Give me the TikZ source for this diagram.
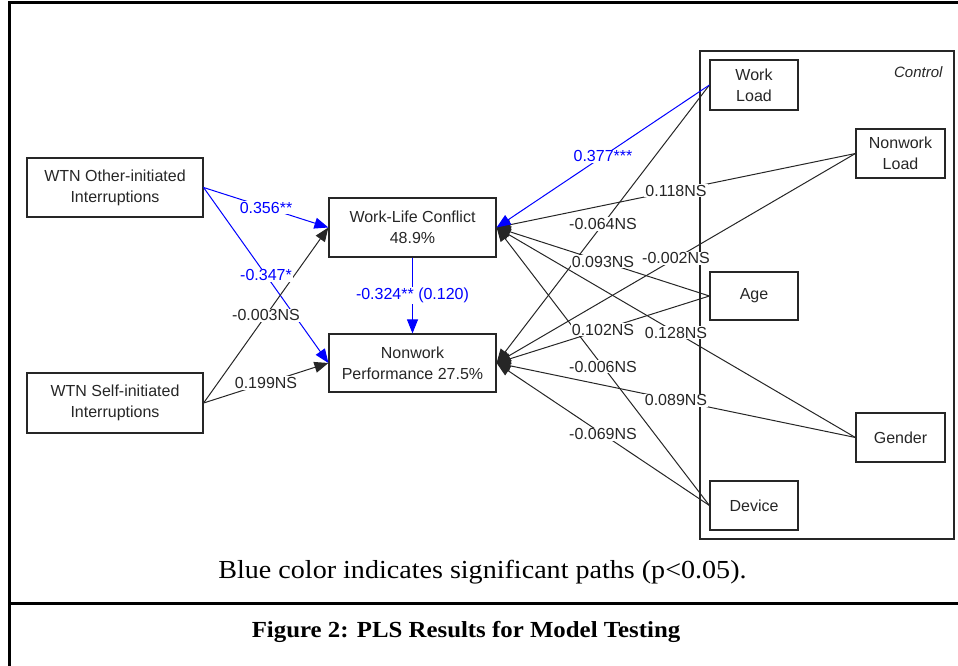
\documentclass[tikz,border=0pt]{standalone}
\usepackage{fontspec}
\setmainfont{Liberation Sans}
\newfontfamily\capfont[FakeStretch=1.08]{Liberation Serif}
\usetikzlibrary{arrows.meta}
\definecolor{ink}{HTML}{262626}
\definecolor{sig}{HTML}{0000FF}
\begin{document}
\begin{tikzpicture}[x=1pt,y=-1pt,
  box/.style={draw=ink, line width=1.2pt, inner sep=0pt, text=ink, align=center,
    font=\fontsize{16}{21}\selectfont},
  conn/.style={draw=black!85, color=black!85, line width=1pt, -{Triangle[length=14pt,width=11pt]}},
  sigconn/.style={conn, draw=sig, color=sig},
  lbl/.style={fill=white, inner sep=1pt, text=ink, font=\fontsize{16}{18}\selectfont},
  siglbl/.style={lbl, text=sig},
  frame/.style={line width=3pt, draw=black},
]
\useasboundingbox (0,0) rectangle (958,666);
% outer frame
\draw[frame] (958,3) -- (9,3) -- (9,666);
\draw[frame] (9,603) -- (958,603);
% control container
\node[draw=ink, line width=1.4pt, minimum width=254pt, minimum height=488pt, inner sep=0pt] (ctrl) at (827,295) {};
\node[anchor=east, text=ink, font=\fontsize{15}{18}\selectfont\itshape] (ctl) at (946,72) {Control};
% main nodes
\node[box, minimum width=176pt, minimum height=59pt] (other) at (115,187.5) {WTN Other-initiated\\Interruptions};
\node[box, minimum width=176pt, minimum height=60pt] (self) at (115,403) {WTN Self-initiated\\Interruptions};
\node[box, minimum width=167pt, minimum height=59pt] (wlc) at (412.5,227.5) {Work-Life Conflict\\48.9\%};
\node[box, minimum width=167pt, minimum height=58pt] (np) at (412.5,363) {Nonwork\\Performance 27.5\%};
% controls
\node[box, minimum width=88pt, minimum height=50pt] (wl) at (754,85) {Work\\Load};
\node[box, minimum width=89pt, minimum height=49pt] (nl) at (900.5,153.5) {Nonwork\\Load};
\node[box, minimum width=88pt, minimum height=48pt] (age) at (754,296) {Age};
\node[box, minimum width=89pt, minimum height=49pt] (gender) at (900.5,437.5) {Gender};
\node[box, minimum width=88pt, minimum height=49pt] (device) at (754,505.5) {Device};
% connectors
\draw[sigconn] (other.east) -- coordinate[midway] (m1) (wlc.west);
\draw[sigconn] (other.east) -- coordinate[midway] (m2) (np.west);
\draw[conn] (self.east) -- coordinate[midway] (m3) (wlc.west);
\draw[conn] (self.east) -- coordinate[midway] (m4) (np.west);
\draw[sigconn] (wlc.south) -- coordinate[midway] (m5) (np.north);
\draw[conn] (wl.west) -- coordinate[midway] (c2) (np.east);
\draw[conn] (nl.west) -- coordinate[midway] (c3) (wlc.east);
\draw[conn] (nl.west) -- coordinate[midway] (c4) (np.east);
\draw[conn] (age.west) -- coordinate[midway] (c5) (wlc.east);
\draw[conn] (age.west) -- coordinate[midway] (c6) (np.east);
\draw[conn] (gender.west) -- coordinate[midway] (c7) (wlc.east);
\draw[conn] (gender.west) -- coordinate[midway] (c8) (np.east);
\draw[conn] (device.west) -- coordinate[midway] (c9) (wlc.east);
\draw[conn] (device.west) -- coordinate[midway] (c10) (np.east);
\draw[sigconn] (wl.west) -- coordinate[midway] (c1) (wlc.east);
% labels
\node[siglbl] (l1) at (m1) {0.356**};
\node[siglbl] (l2) at (m2) {-0.347*};
\node[lbl] (l3) at (m3) {-0.003NS};
\node[lbl] (l4) at (m4) {0.199NS};
\node[siglbl] (l5) at (m5) {-0.324** (0.120)};
\node[siglbl] (k1) at (c1) {0.377***};
\node[lbl] (k2) at (c2) {-0.064NS};
\node[lbl] (k3) at (c3) {0.118NS};
\node[lbl] (k4) at (c4) {-0.002NS};
\node[lbl] (k5) at (c5) {0.093NS};
\node[lbl] (k6) at (c6) {0.102NS};
\node[lbl] (k7) at (c7) {0.128NS};
\node[lbl] (k8) at (c8) {0.089NS};
\node[lbl] (k9) at (c9) {-0.006NS};
\node[lbl] (k10) at (c10) {-0.069NS};
% captions
\node[anchor=base, inner sep=0pt, font=\fontsize{26}{30}\capfont] (note) at (482.5,578) {Blue color indicates significant paths (p<0.05).};
\node[anchor=base, inner sep=0pt, font=\fontsize{23}{28}\capfont\bfseries] (cap) at (466,637) {Figure 2: PLS Results for Model Testing};
\end{tikzpicture}
\end{document}
